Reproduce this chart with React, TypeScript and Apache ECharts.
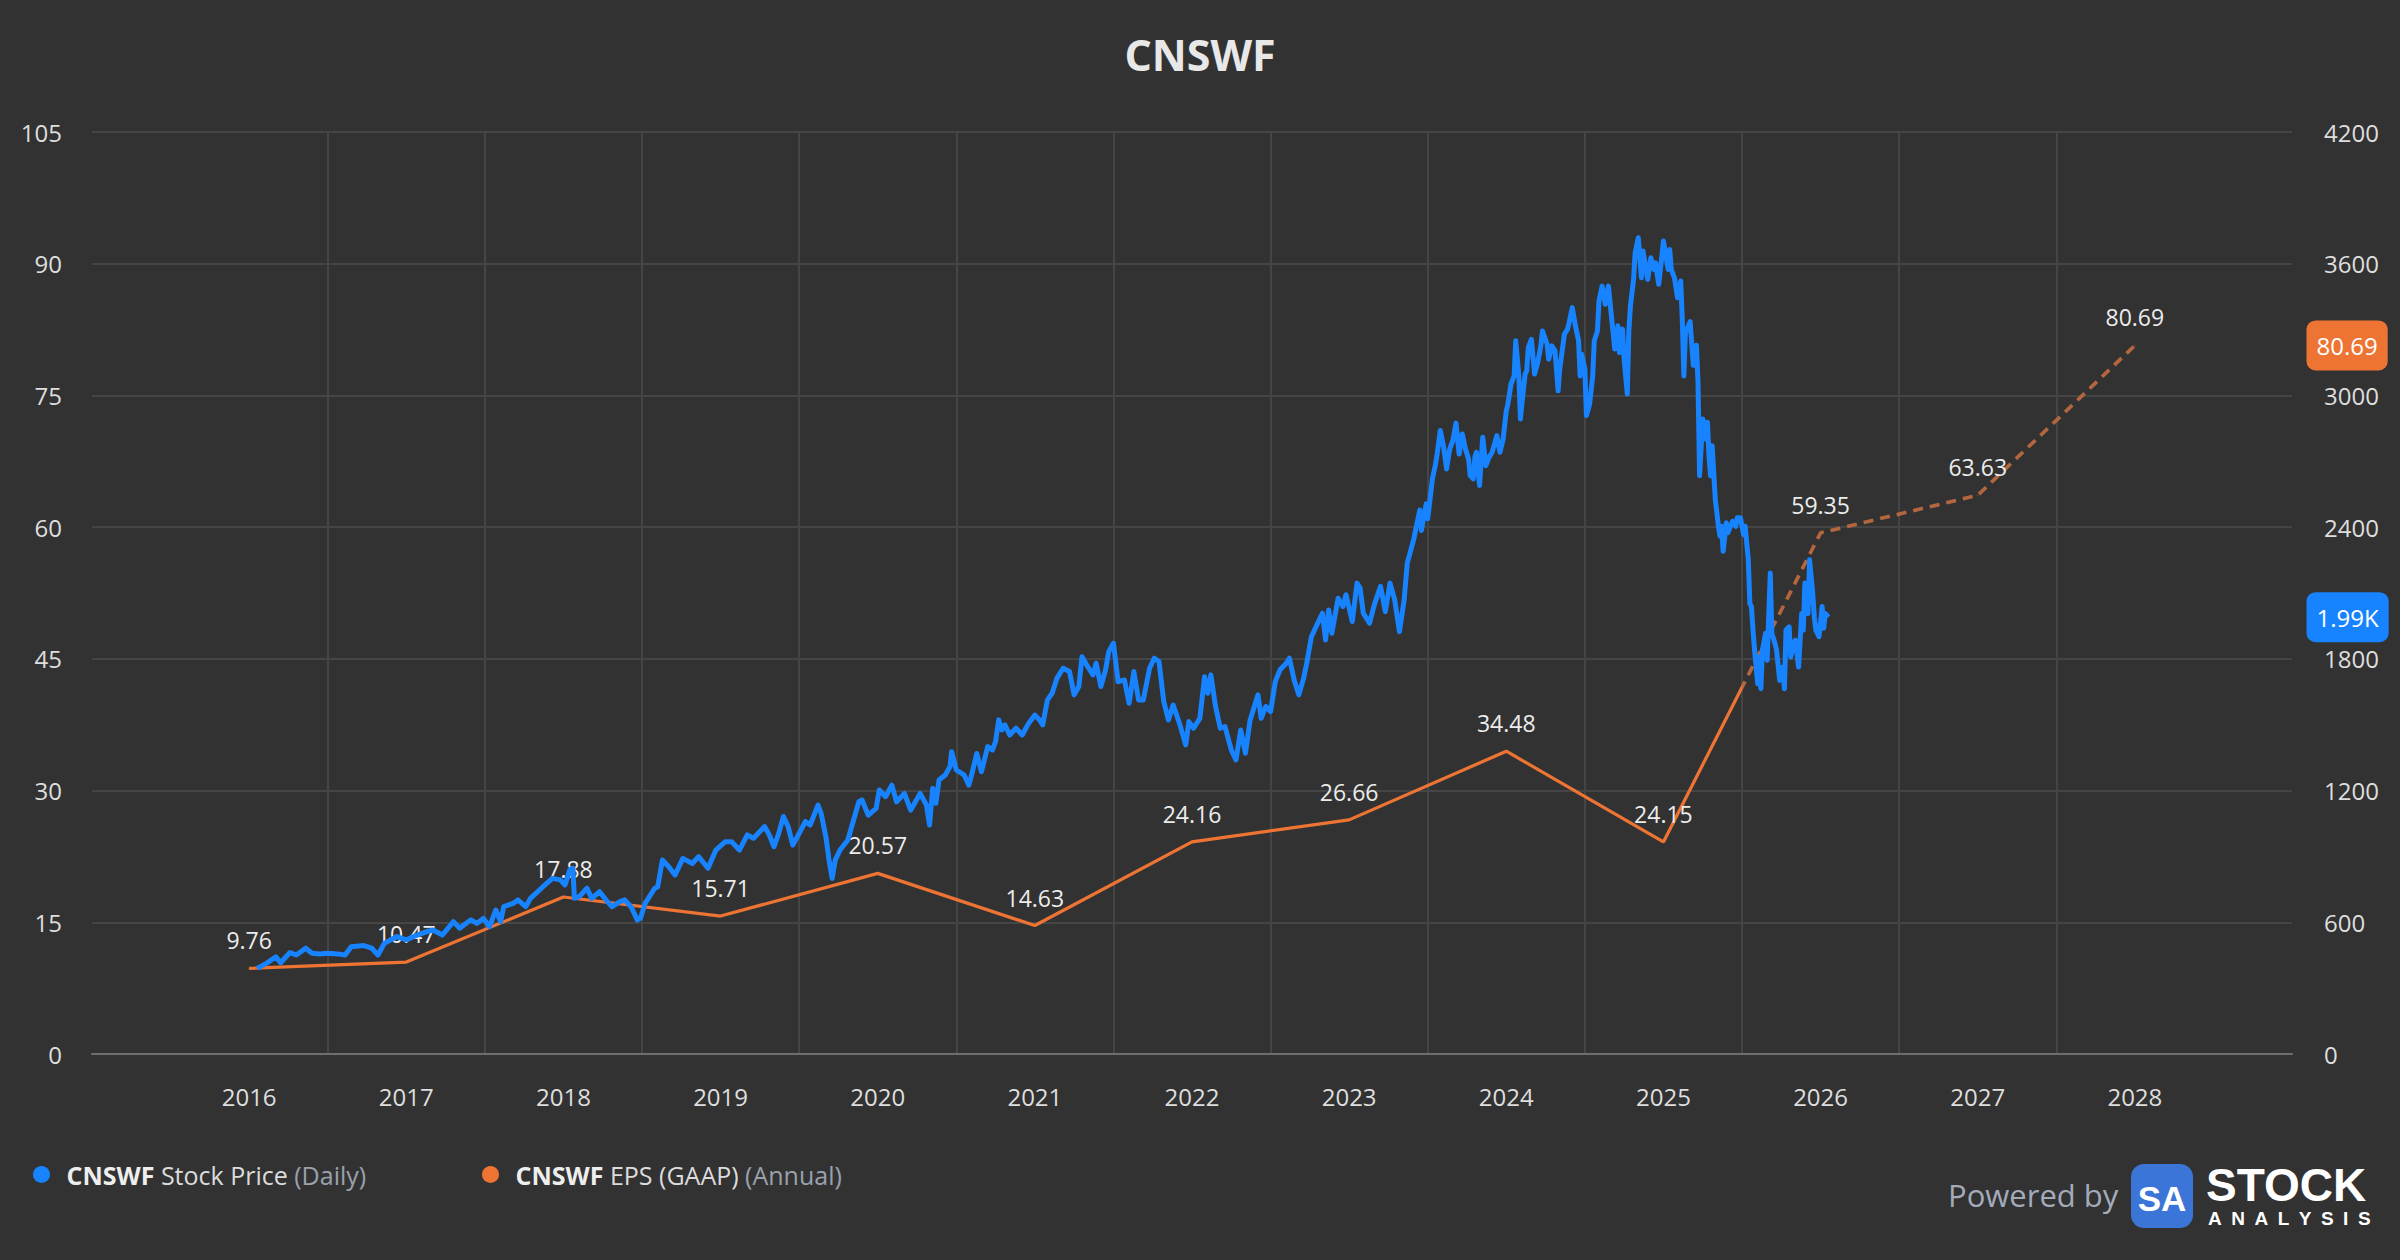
import React, { useEffect, useRef } from "react";
import * as echarts from "echarts";

// ---------- data ----------
const chartTitle = "CNSWF";
const priceName = "CNSWF Stock Price (Daily)";
const epsName = "CNSWF EPS (GAAP) (Annual)";

const xMin = 2015;
const xMax = 2029;
const epsMin = 0;
const epsMax = 105;
const epsInterval = 15;
const priceMin = 0;
const priceMax = 4200;
const priceInterval = 600;
const forecastStart = 2025.5;
const firstGridYear = 2016.5;
const lastGridYear = 2027.5;

const epsYears = [2016, 2017, 2018, 2019, 2020, 2021, 2022, 2023, 2024, 2025, 2026, 2027, 2028];
const epsValues = [9.76, 10.47, 17.88, 15.71, 20.57, 14.63, 24.16, 26.66, 34.48, 24.15, 59.35, 63.63, 80.69];
const epsReportedCount = 10;

const priceSeries: [number, number][] = [
  [2016.05, 390], [2016.11, 413], [2016.17, 443], [2016.2, 416], [2016.26, 462], [2016.3, 451], [2016.36, 482], [2016.4, 459], [2016.45, 456], [2016.5, 459], [2016.56, 456], [2016.61, 451], [2016.65, 489], [2016.73, 494], [2016.78, 482], [2016.82, 451], [2016.86, 504], [2016.94, 535],
  [2017.0, 520], [2017.07, 542], [2017.13, 557], [2017.17, 565], [2017.23, 542], [2017.3, 603], [2017.34, 573], [2017.41, 611], [2017.45, 595], [2017.49, 618], [2017.53, 580], [2017.57, 656], [2017.6, 603], [2017.62, 671], [2017.68, 686], [2017.71, 702], [2017.76, 671], [2017.79, 709], [2017.87, 762], [2017.93, 800], [2017.98, 793],
  [2018.01, 770], [2018.04, 838], [2018.06, 846], [2018.07, 709], [2018.1, 717], [2018.15, 755], [2018.18, 709], [2018.23, 739], [2018.27, 702], [2018.31, 671], [2018.36, 694], [2018.39, 702], [2018.43, 671], [2018.47, 611], [2018.49, 618], [2018.52, 686], [2018.58, 754], [2018.6, 762], [2018.63, 884], [2018.67, 853], [2018.71, 815], [2018.76, 891], [2018.82, 868], [2018.86, 899], [2018.92, 846], [2018.97, 929],
  [2019.03, 967], [2019.07, 967], [2019.12, 929], [2019.17, 998], [2019.21, 983], [2019.28, 1036], [2019.31, 998], [2019.34, 944], [2019.37, 1005], [2019.4, 1082], [2019.43, 1036], [2019.46, 952], [2019.5, 1005], [2019.54, 1059], [2019.57, 1043], [2019.62, 1134], [2019.64, 1096], [2019.67, 990], [2019.69, 884], [2019.71, 800], [2019.73, 884], [2019.76, 929], [2019.81, 975], [2019.84, 1050], [2019.88, 1149], [2019.9, 1157], [2019.94, 1088], [2019.99, 1119],
  [2020.01, 1203], [2020.05, 1172], [2020.09, 1225], [2020.12, 1149], [2020.17, 1187], [2020.21, 1111], [2020.24, 1149], [2020.27, 1187], [2020.31, 1134], [2020.33, 1043], [2020.35, 1210], [2020.37, 1142], [2020.39, 1248], [2020.43, 1271], [2020.46, 1309], [2020.47, 1377], [2020.5, 1294], [2020.55, 1271], [2020.58, 1225], [2020.6, 1278], [2020.63, 1369], [2020.66, 1286], [2020.7, 1400], [2020.73, 1385], [2020.75, 1423], [2020.77, 1522], [2020.79, 1476], [2020.81, 1499], [2020.84, 1453], [2020.88, 1484], [2020.92, 1453], [2020.96, 1506],
  [2021.0, 1544], [2021.03, 1522], [2021.05, 1499], [2021.08, 1613], [2021.11, 1643], [2021.14, 1711], [2021.18, 1757], [2021.22, 1742], [2021.25, 1636], [2021.28, 1674], [2021.3, 1810], [2021.33, 1772], [2021.37, 1727], [2021.39, 1780], [2021.42, 1674], [2021.45, 1750], [2021.47, 1833], [2021.5, 1871], [2021.53, 1696], [2021.57, 1704], [2021.6, 1598], [2021.63, 1742], [2021.66, 1613], [2021.69, 1613], [2021.73, 1757], [2021.76, 1803], [2021.79, 1788], [2021.82, 1606], [2021.85, 1522], [2021.88, 1590], [2021.92, 1507], [2021.96, 1408], [2021.98, 1514],
  [2022.01, 1484], [2022.05, 1529], [2022.08, 1719], [2022.1, 1643], [2022.12, 1727], [2022.15, 1583], [2022.18, 1484], [2022.21, 1491], [2022.25, 1385], [2022.28, 1340], [2022.31, 1476], [2022.34, 1370], [2022.37, 1522], [2022.42, 1636], [2022.44, 1529], [2022.47, 1583], [2022.5, 1560], [2022.53, 1696], [2022.56, 1750], [2022.6, 1780], [2022.62, 1803], [2022.65, 1704], [2022.68, 1636], [2022.71, 1711], [2022.73, 1780], [2022.76, 1901], [2022.78, 1932], [2022.83, 2008], [2022.85, 1886], [2022.87, 2023], [2022.89, 1917], [2022.93, 2076], [2022.96, 2038], [2022.98, 2092],
  [2023.02, 1970], [2023.05, 2145], [2023.07, 2122], [2023.09, 2008], [2023.13, 1963], [2023.16, 2046], [2023.2, 2130], [2023.23, 2015], [2023.26, 2145], [2023.29, 2069], [2023.32, 1924], [2023.35, 2069], [2023.37, 2236], [2023.41, 2342], [2023.45, 2478], [2023.46, 2385], [2023.49, 2506], [2023.5, 2438], [2023.53, 2620], [2023.55, 2688], [2023.56, 2733], [2023.58, 2840], [2023.6, 2771], [2023.62, 2665], [2023.64, 2756], [2023.66, 2794], [2023.68, 2874], [2023.7, 2733], [2023.72, 2824], [2023.74, 2756], [2023.76, 2711], [2023.77, 2635], [2023.79, 2620], [2023.8, 2718], [2023.81, 2741], [2023.83, 2590], [2023.85, 2809], [2023.87, 2680], [2023.89, 2718], [2023.91, 2741], [2023.94, 2817], [2023.96, 2741], [2023.98, 2802],
  [2024.0, 2930], [2024.01, 2960], [2024.03, 3052], [2024.05, 3089], [2024.06, 3249], [2024.08, 3089], [2024.09, 2893], [2024.1, 2968], [2024.12, 3097], [2024.13, 3112], [2024.14, 3218], [2024.16, 3256], [2024.18, 3097], [2024.2, 3150], [2024.22, 3226], [2024.23, 3294], [2024.26, 3233], [2024.27, 3165], [2024.29, 3226], [2024.31, 3203], [2024.33, 3021], [2024.34, 3120], [2024.37, 3279], [2024.39, 3302], [2024.4, 3332], [2024.42, 3400], [2024.44, 3317], [2024.46, 3249], [2024.47, 3089], [2024.48, 3188], [2024.5, 3120], [2024.51, 2908], [2024.53, 2960], [2024.55, 3089], [2024.56, 3249], [2024.58, 3294], [2024.59, 3430], [2024.61, 3498], [2024.63, 3415], [2024.65, 3498], [2024.67, 3355], [2024.69, 3211], [2024.71, 3317], [2024.72, 3195], [2024.74, 3302], [2024.75, 3165], [2024.77, 3006], [2024.78, 3294], [2024.79, 3408], [2024.81, 3529], [2024.82, 3650], [2024.84, 3718], [2024.86, 3536], [2024.87, 3658], [2024.9, 3529], [2024.92, 3627], [2024.94, 3574], [2024.95, 3604], [2024.97, 3506], [2024.99, 3635],
  [2025.0, 3703], [2025.03, 3574], [2025.04, 3665], [2025.05, 3574], [2025.07, 3536], [2025.09, 3445], [2025.11, 3521], [2025.12, 3347], [2025.13, 3089], [2025.14, 3286], [2025.17, 3336], [2025.19, 3137], [2025.21, 3229], [2025.22, 3061], [2025.23, 2634], [2025.25, 2893], [2025.27, 2801], [2025.28, 2878], [2025.29, 2725], [2025.3, 2634], [2025.31, 2771], [2025.33, 2527], [2025.35, 2404], [2025.36, 2359], [2025.37, 2404], [2025.38, 2290], [2025.4, 2420], [2025.41, 2374], [2025.44, 2427], [2025.46, 2404], [2025.47, 2443], [2025.49, 2443], [2025.51, 2366], [2025.52, 2404], [2025.54, 2252], [2025.55, 2053], [2025.56, 2038], [2025.57, 1931], [2025.58, 1839], [2025.6, 1687], [2025.61, 1809], [2025.62, 1664], [2025.63, 1839], [2025.65, 1916], [2025.66, 1794], [2025.68, 2191], [2025.69, 1916], [2025.71, 1870], [2025.72, 1839], [2025.74, 1702], [2025.76, 1763], [2025.77, 1664], [2025.78, 1931], [2025.8, 1946], [2025.81, 1809], [2025.83, 1870], [2025.84, 1885], [2025.86, 1763], [2025.88, 2007], [2025.89, 1931], [2025.9, 2145], [2025.92, 2007], [2025.93, 2252], [2025.95, 2099], [2025.96, 1992], [2025.97, 1931], [2025.99, 1901], [2026.01, 2038], [2026.02, 1939], [2026.03, 2007], [2026.05, 1990],
];

// ---------- styles ----------
const FONT = "'Open Sans', 'Noto Sans', sans-serif";
const LOGO_FONT = "'Liberation Sans', Arial, sans-serif";
const BG = "#323232";
const BLUE = "#1783ff";
const ORANGE = "#ee7434";
const ORANGE_DASH = "#b4673f";
const GRID_LINE = "#454545";
const AXIS_LINE = "#6e6e6e";
const AXIS_TEXT = "#dedede";
const LABEL_TEXT = "#ececec";
const CLEAR = "rgba(0,0,0,0)";

function buildOption(): any {
  const lastPrice = priceSeries[priceSeries.length - 1][1];
  const lastEps = epsValues[epsValues.length - 1];

  const solidData = epsYears.slice(0, epsReportedCount + 1).map((y, i) => ({
    value: [y, epsValues[i]],
    label: { show: i < epsReportedCount },
  }));
  const dashedData = epsYears.slice(epsReportedCount - 1).map((y, j) => {
    const i = j + epsReportedCount - 1;
    return { value: [y, epsValues[i]], label: { show: i >= epsReportedCount } };
  });

  // vertical grid lines at the half-years between the labelled years
  const halfStep = 0.5;
  const halfCount = Math.round((xMax - xMin) / halfStep) + 1;
  const vGridColors = Array.from({ length: halfCount }, (_, i) => {
    const v = xMin + i * halfStep;
    return Math.abs(v % 1) === 0.5 && v >= firstGridYear && v <= lastGridYear ? GRID_LINE : CLEAR;
  });

  const epsLabel = {
    show: true,
    position: "top",
    distance: 16,
    color: LABEL_TEXT,
    fontSize: 23,
    fontFamily: FONT,
    formatter: (p: any) => Number(p.value[1]).toFixed(2),
  };

  const badge = (bg: string, text: string) => ({
    show: true,
    position: "right",
    distance: 14,
    formatter: () => text,
    color: "#ffffff",
    fontSize: 24,
    fontFamily: FONT,
    backgroundColor: bg,
    borderRadius: 9,
    padding: [14, 10, 12, 10],
  });

  const legendText = () => ({
    color: "#dcdcdc",
    fontSize: 25,
    fontFamily: FONT,
    rich: {
      b: { fontWeight: "bold", color: "#eeeeee", fontSize: 25, fontFamily: FONT },
      n: { color: "#dcdcdc", fontSize: 25, fontFamily: FONT },
      g: { color: "#9aa1ad", fontSize: 25, fontFamily: FONT },
    },
  });

  const analysisText = "ANALYSIS".split("").join("\u2002");

  return {
    animation: false,
    backgroundColor: BG,
    title: {
      text: chartTitle,
      left: "center",
      top: 28,
      textStyle: { color: "#e8e8e8", fontSize: 43, fontWeight: "bold", fontFamily: FONT },
    },
    legend: [
      {
        data: [{ name: priceName, itemStyle: { color: BLUE } }],
        left: 28,
        top: 1157,
        icon: "circle",
        itemWidth: 40,
        itemHeight: 17,
        selectedMode: false,
        formatter: () => "{b|CNSWF}{n| Stock Price }{g|(Daily)}",
        textStyle: legendText(),
      },
      {
        data: [{ name: epsName, itemStyle: { color: ORANGE } }],
        left: 477,
        top: 1157,
        icon: "circle",
        itemWidth: 40,
        itemHeight: 17,
        selectedMode: false,
        formatter: () => "{b|CNSWF}{n| EPS (GAAP) }{g|(Annual)}",
        textStyle: legendText(),
      },
    ],
    grid: { left: 92, right: 108, top: 132, bottom: 206, containLabel: false },
    xAxis: [
      {
        type: "value",
        min: xMin,
        max: xMax,
        interval: 1,
        axisLine: { show: true, lineStyle: { color: AXIS_LINE, width: 2 } },
        axisTick: { show: false },
        splitLine: { show: false },
        axisLabel: {
          color: AXIS_TEXT,
          fontSize: 24,
          fontFamily: FONT,
          margin: 30,
          showMinLabel: false,
          showMaxLabel: false,
          formatter: (v: number) => (v === xMin || v === xMax ? "" : String(v)),
        },
      },
      {
        type: "value",
        min: xMin,
        max: xMax,
        interval: halfStep,
        position: "top",
        axisLine: { show: false },
        axisTick: { show: false },
        axisLabel: { show: false },
        splitLine: { show: true, lineStyle: { color: vGridColors, width: 2 } },
      },
    ],
    yAxis: [
      {
        type: "value",
        min: epsMin,
        max: epsMax,
        interval: epsInterval,
        position: "left",
        axisLine: { show: false },
        axisTick: { show: false },
        splitLine: { show: true, lineStyle: { color: GRID_LINE, width: 2 } },
        axisLabel: { color: AXIS_TEXT, fontSize: 24, fontFamily: FONT, margin: 30, formatter: (v: number) => String(v) },
      },
      {
        type: "value",
        min: priceMin,
        max: priceMax,
        interval: priceInterval,
        position: "right",
        axisLine: { show: false },
        axisTick: { show: false },
        splitLine: { show: false },
        axisLabel: { color: AXIS_TEXT, fontSize: 24, fontFamily: FONT, margin: 32, formatter: (v: number) => String(v) },
      },
    ],
    visualMap: [
      {
        type: "piecewise",
        show: false,
        seriesIndex: 1,
        dimension: 0,
        pieces: [
          { gte: xMin, lt: forecastStart, color: ORANGE },
          { gte: forecastStart, lte: xMax, color: CLEAR },
        ],
        outOfRange: { color: CLEAR },
      },
      {
        type: "piecewise",
        show: false,
        seriesIndex: 2,
        dimension: 0,
        pieces: [
          { gte: xMin, lt: forecastStart, color: CLEAR },
          { gte: forecastStart, lte: xMax, color: ORANGE_DASH },
        ],
        outOfRange: { color: CLEAR },
      },
    ],
    series: [
      {
        name: priceName,
        type: "line",
        xAxisIndex: 0,
        yAxisIndex: 1,
        data: priceSeries,
        showSymbol: false,
        symbol: "none",
        z: 4,
        itemStyle: { color: BLUE },
        lineStyle: { color: BLUE, width: 5, join: "round" },
        markPoint: {
          symbol: "circle",
          symbolSize: 1,
          itemStyle: { color: CLEAR },
          data: [{ coord: [xMax, lastPrice], label: badge(BLUE, (lastPrice / 1000).toFixed(2) + "K") }],
        },
      },
      {
        name: epsName,
        type: "line",
        xAxisIndex: 0,
        yAxisIndex: 0,
        data: solidData,
        showSymbol: true,
        symbol: "circle",
        symbolSize: 1,
        z: 3,
        lineStyle: { width: 3.2 },
        label: epsLabel,
      },
      {
        name: epsName,
        type: "line",
        xAxisIndex: 0,
        yAxisIndex: 0,
        data: dashedData,
        showSymbol: true,
        symbol: "circle",
        symbolSize: 1,
        z: 3,
        lineStyle: { width: 3.6, type: [10, 7] },
        label: epsLabel,
        markPoint: {
          symbol: "circle",
          symbolSize: 1,
          itemStyle: { color: CLEAR },
          data: [{ coord: [xMax, lastEps], label: badge(ORANGE, lastEps.toFixed(2)) }],
        },
      },
    ],
    graphic: [
      {
        type: "text",
        x: 1948,
        y: 1195,
        style: { text: "Powered by", fill: "#a3abbb", font: `31px ${FONT}`, align: "left", verticalAlign: "middle" },
      },
      {
        type: "rect",
        shape: { x: 2131, y: 1164, width: 62, height: 64, r: 13 },
        style: { fill: "#3c75d8" },
      },
      {
        type: "text",
        x: 2162,
        y: 1198,
        style: { text: "SA", fill: "#ffffff", font: `bold 35px ${LOGO_FONT}`, align: "center", verticalAlign: "middle" },
      },
      {
        type: "text",
        x: 2206,
        y: 1185,
        style: { text: "STOCK", fill: "#ffffff", font: `bold 46px ${LOGO_FONT}`, align: "left", verticalAlign: "middle" },
      },
      {
        type: "text",
        x: 2208,
        y: 1218,
        style: { text: analysisText, fill: "#ffffff", font: `bold 19px ${LOGO_FONT}`, align: "left", verticalAlign: "middle" },
      },
    ],
  };
}

export default function App() {
  const ref = useRef<HTMLDivElement>(null);
  useEffect(() => {
    if (!ref.current) return;
    const chart = echarts.init(ref.current, null, { renderer: "svg" });
    chart.setOption(buildOption());
    return () => chart.dispose();
  }, []);
  return (
    <div
      ref={ref}
      style={{ position: "fixed", left: 0, top: 0, width: 2400, height: 1260, background: BG }}
    />
  );
}
